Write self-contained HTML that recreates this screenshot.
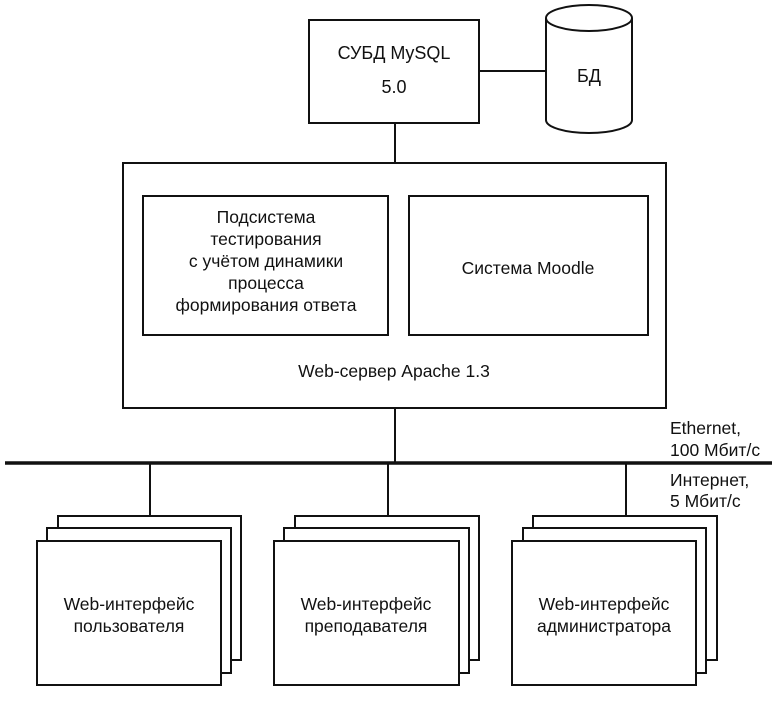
<!DOCTYPE html>
<html><head><meta charset="utf-8"><style>
html,body{margin:0;padding:0;background:#fff;}
svg text{font-family:"Liberation Sans",sans-serif;font-size:17.5px;fill:#111;text-anchor:middle;}
</style></head><body>
<svg width="772" height="712" viewBox="0 0 772 712" xmlns="http://www.w3.org/2000/svg">
<g fill="#fff" stroke="#111" stroke-width="2">
<rect x="309" y="20" width="170" height="103"/>
<line x1="479" y1="71" x2="546" y2="71"/>
<path d="M546 18 L546 120 A43 13 0 0 0 632 120 L632 18"/>
<ellipse cx="589" cy="18" rx="43" ry="13"/>
<line x1="395" y1="123" x2="395" y2="163"/>
<rect x="123" y="163" width="543" height="245"/>
<rect x="143" y="196" width="245" height="139"/>
<rect x="409" y="196" width="239" height="139"/>
<line x1="395" y1="408" x2="395" y2="463"/>
<line x1="150" y1="463" x2="150" y2="516"/>
<line x1="388" y1="463" x2="388" y2="516"/>
<line x1="626" y1="463" x2="626" y2="516"/>
<rect x="58" y="516" width="183" height="144"/>
<rect x="47" y="528" width="184" height="145"/>
<rect x="37" y="541" width="184" height="144"/>
<rect x="295" y="516" width="184" height="144"/>
<rect x="284" y="528" width="185" height="145"/>
<rect x="274" y="541" width="185" height="144"/>
<rect x="533" y="516" width="184" height="144"/>
<rect x="523" y="528" width="183" height="145"/>
<rect x="512" y="541" width="184" height="144"/>
</g>
<line x1="5" y1="463" x2="772" y2="463" stroke="#111" stroke-width="3.5"/>
<text x="394" y="59" style="font-size:18px">СУБД MySQL</text>
<text x="394" y="93" style="font-size:18px">5.0</text>
<text x="589" y="82" style="font-size:18px">БД</text>
<text x="266" y="223">Подсистема</text>
<text x="266" y="245">тестирования</text>
<text x="266" y="267">с учётом динамики</text>
<text x="266" y="289">процесса</text>
<text x="266" y="311">формирования ответа</text>
<text x="528" y="274">Система Moodle</text>
<text x="394" y="377">Web-сервер Apache 1.3</text>
<text x="129" y="610">Web-интерфейс</text>
<text x="129" y="632">пользователя</text>
<text x="366" y="610">Web-интерфейс</text>
<text x="366" y="632">преподавателя</text>
<text x="604" y="610">Web-интерфейс</text>
<text x="604" y="632">администратора</text>
<text x="670" y="434" style="text-anchor:start">Ethernet,</text>
<text x="670" y="456" style="text-anchor:start">100 Мбит/с</text>
<text x="670" y="486" style="text-anchor:start">Интернет,</text>
<text x="670" y="507" style="text-anchor:start">5 Мбит/с</text>
</svg>
</body></html>
